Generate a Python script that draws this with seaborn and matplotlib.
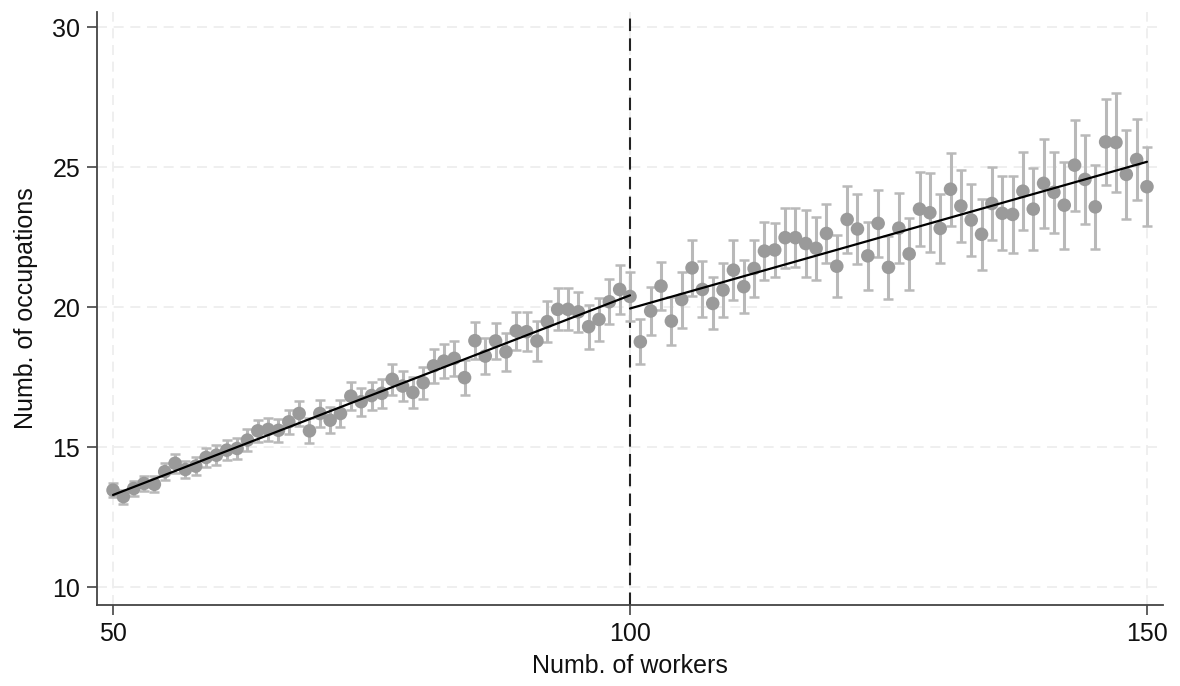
import numpy as np
import pandas as pd
import matplotlib
matplotlib.use("Agg")
import matplotlib.pyplot as plt
import seaborn as sns

# ---- data ----
workers = list(range(50, 151))
occupations = [
    13.46, 13.23, 13.52, 13.70, 13.67, 14.12, 14.42, 14.20, 14.32, 14.63,
    14.71, 14.89, 14.95, 15.25, 15.58, 15.63, 15.60, 15.90, 16.20, 15.58,
    16.20, 15.96, 16.20, 16.82, 16.62, 16.84, 16.92, 17.42, 17.18, 16.95,
    17.30, 17.90, 18.07, 18.17, 17.48, 18.80, 18.25, 18.79, 18.40, 19.15,
    19.12, 18.79, 19.48, 19.92, 19.92, 19.83, 19.30, 19.56, 20.19, 20.63,
    20.38,
    18.76, 19.86, 20.75, 19.50, 20.27, 21.40, 20.63, 20.13, 20.61, 21.32,
    20.73, 21.38, 22.00, 22.04, 22.48, 22.48, 22.27, 22.10, 22.63, 21.46,
    23.13, 22.79, 21.83, 22.99, 21.42, 22.82, 21.90, 23.50, 23.37, 22.81,
    24.21, 23.61, 23.11, 22.60, 23.70, 23.35, 23.31, 24.14, 23.50, 24.42,
    24.10, 23.64, 25.07, 24.56, 23.58, 25.90, 25.88, 24.74, 25.27, 24.30,
]
ci_half = [
    0.25, 0.25, 0.27, 0.28, 0.28, 0.30, 0.33, 0.32, 0.33, 0.34,
    0.35, 0.36, 0.37, 0.38, 0.40, 0.40, 0.42, 0.43, 0.46, 0.45,
    0.47, 0.47, 0.48, 0.49, 0.50, 0.50, 0.52, 0.56, 0.55, 0.55,
    0.57, 0.60, 0.60, 0.62, 0.62, 0.65, 0.65, 0.65, 0.68, 0.68,
    0.70, 0.70, 0.72, 0.75, 0.75, 0.71, 0.78, 0.77, 0.81, 0.89,
    0.86,
    0.80, 0.87, 0.85, 0.86, 1.00, 1.00, 1.00, 0.93, 0.98, 1.07,
    0.95, 1.02, 1.05, 0.98, 1.07, 1.05, 1.19, 1.13, 1.04, 1.11,
    1.20, 1.26, 1.21, 1.20, 1.12, 1.25, 1.30, 1.32, 1.41, 1.24,
    1.31, 1.30, 1.30, 1.26, 1.30, 1.32, 1.39, 1.40, 1.47, 1.60,
    1.45, 1.55, 1.62, 1.58, 1.51, 1.54, 1.77, 1.59, 1.46, 1.42,
]
cutoff = 100
fit_left_x = [50, 100]
fit_left_y = [13.29, 20.42]
fit_right_x = [100, 150]
fit_right_y = [19.95, 25.19]

x_ticks = [50, 100, 150]
y_ticks = [10, 15, 20, 25, 30]
x_label = "Numb. of workers"
y_label = "Numb. of occupations"

df = pd.DataFrame({"workers": workers, "occupations": occupations, "ci": ci_half})
fit_df = pd.concat([
    pd.DataFrame({"x": fit_left_x, "y": fit_left_y, "side": "left"}),
    pd.DataFrame({"x": fit_right_x, "y": fit_right_y, "side": "right"}),
])

sns.set_theme(style="white")
plt.rcParams["font.family"] = ["Liberation Sans", "DejaVu Sans"]

fig = plt.figure(figsize=(11.8, 6.86), dpi=100)
ax = fig.add_axes([0.0822, 0.1181, 0.9034, 0.8644])

ax.errorbar(df["workers"], df["occupations"], yerr=df["ci"], fmt="none",
            ecolor="#b9b9b9", elinewidth=2.2, capsize=3.3, capthick=1.8, zorder=2)
sns.scatterplot(data=df, x="workers", y="occupations", ax=ax, color="#9a9a9a",
                s=95, edgecolor="none", linewidth=0, zorder=3)
sns.lineplot(data=fit_df, x="x", y="y", units="side", estimator=None, ax=ax,
             color="black", linewidth=1.6, zorder=4)
ax.axvline(cutoff, color="#222222", linestyle=(0, (6, 3.5)), linewidth=1.5, zorder=1)

ax.set_xlim(48.45, 151.55)
ax.set_ylim(9.36, 30.54)
ax.set_xticks(x_ticks)
ax.set_yticks(y_ticks)
ax.grid(True, color="#ececec", linestyle=(0, (6, 4)), linewidth=1.2)
ax.set_axisbelow(True)

for side in ["top", "right"]:
    ax.spines[side].set_visible(False)
for side in ["left", "bottom"]:
    ax.spines[side].set_color("#444444")
    ax.spines[side].set_linewidth(1.3)
ax.tick_params(axis="both", which="both", direction="out", length=7, width=1.2,
               color="#444444", labelsize=18, labelcolor="#111111", bottom=True, left=True, pad=5)
ax.set_xlabel(x_label, fontsize=18, color="#111111", labelpad=6)
ax.set_ylabel(y_label, fontsize=18, color="#111111", labelpad=10)

fig.savefig("out.png", dpi=100)
